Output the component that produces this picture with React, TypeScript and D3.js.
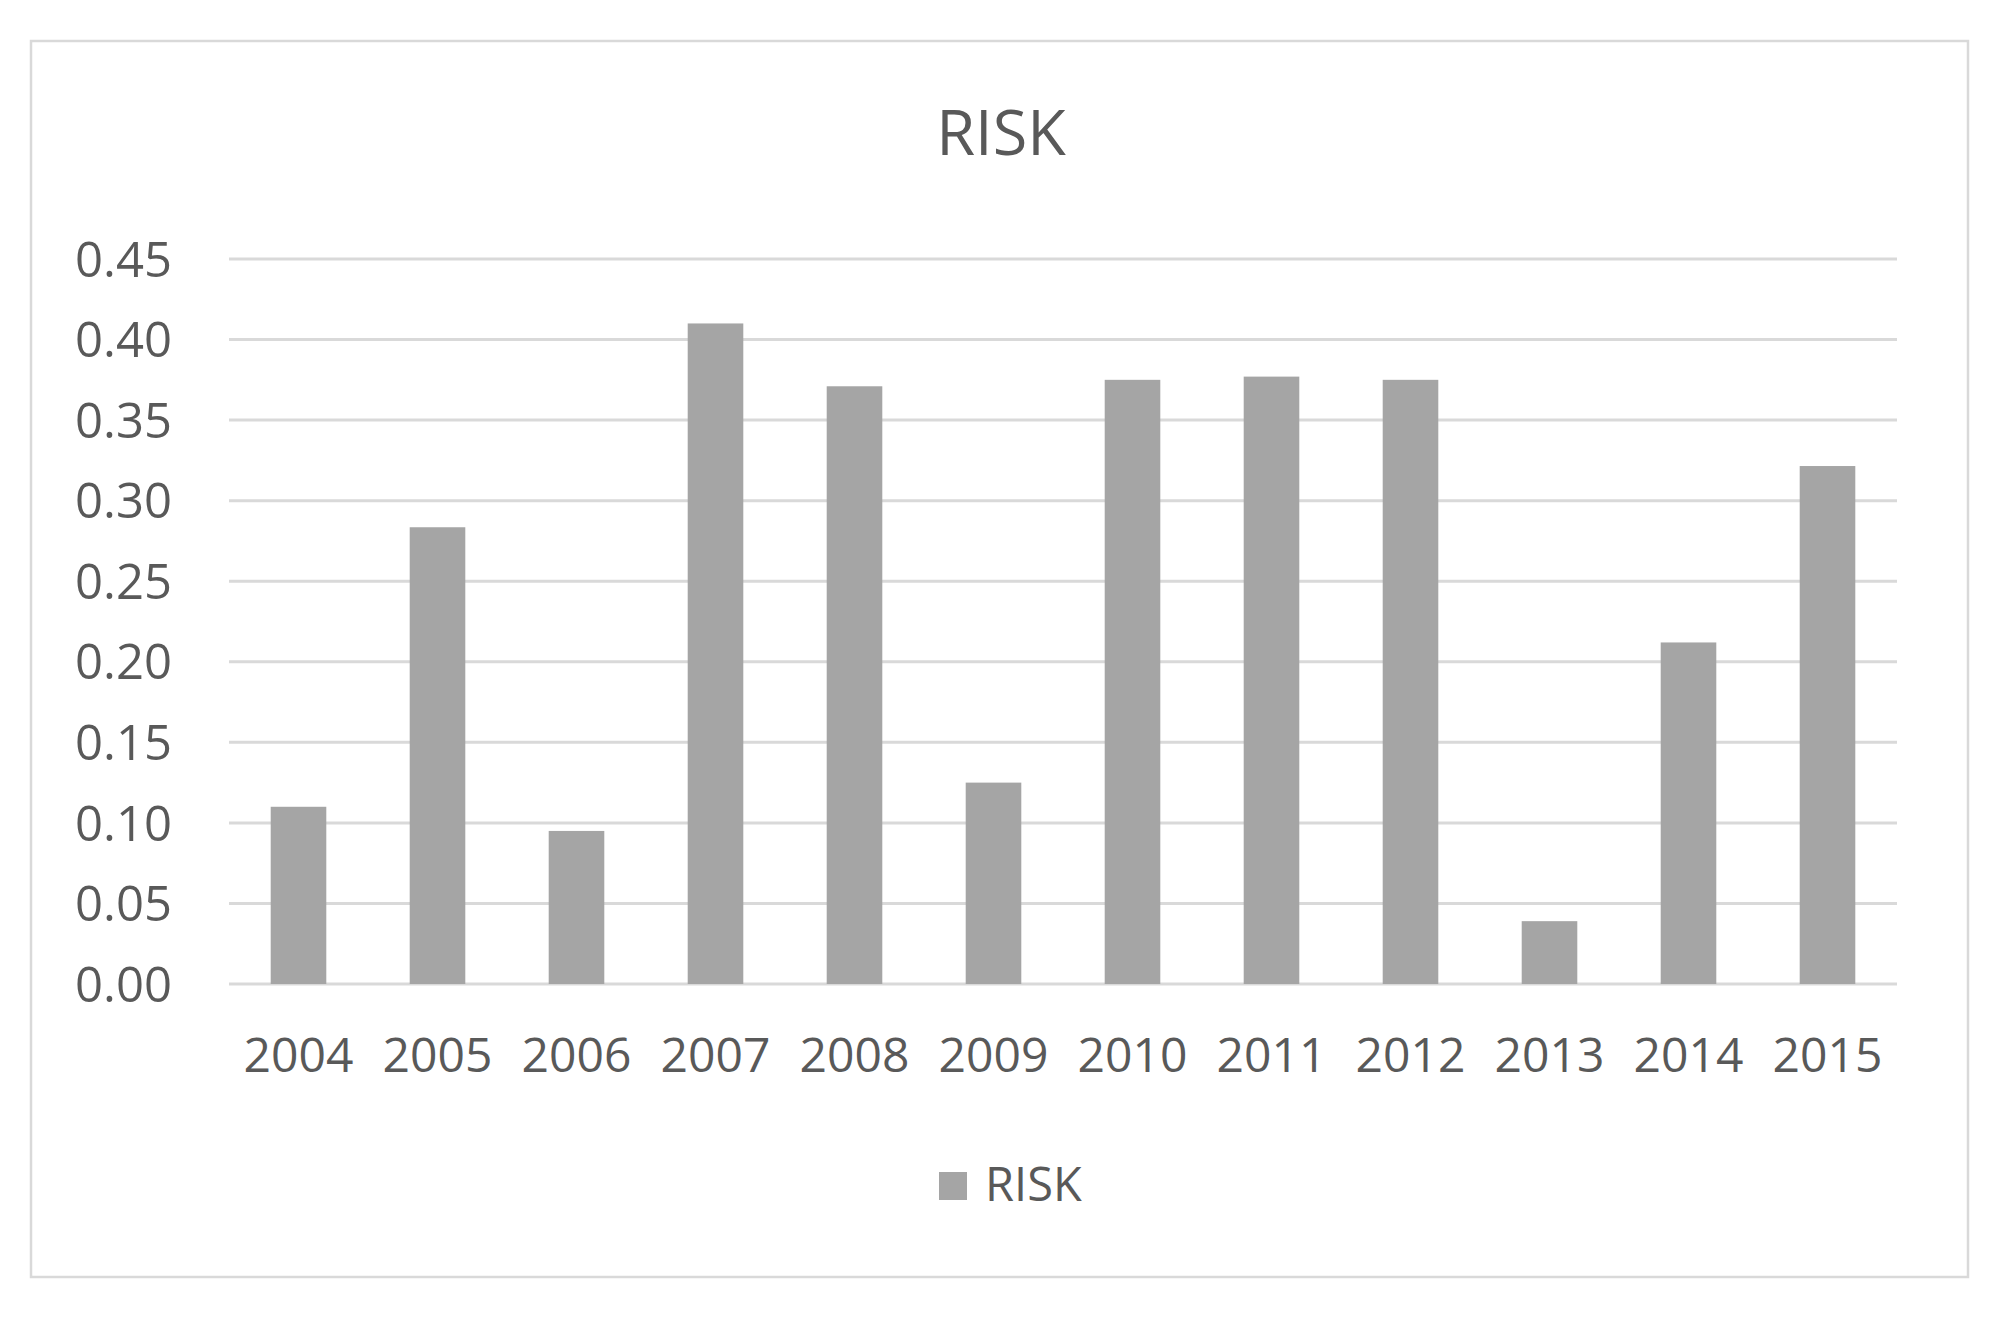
import React from "react";
import * as d3 from "d3";

const categories = ["2004", "2005", "2006", "2007", "2008", "2009", "2010", "2011", "2012", "2013", "2014", "2015"];
const riskValues = [0.11, 0.2835, 0.095, 0.41, 0.371, 0.125, 0.375, 0.377, 0.375, 0.039, 0.212, 0.3215];
const yTicks = [0, 0.05, 0.1, 0.15, 0.2, 0.25, 0.3, 0.35, 0.4, 0.45];
const seriesName = "RISK";
const chartTitle = "RISK";

const W = 1995;
const H = 1324;
const FONT = "'Open Sans', 'Noto Sans', sans-serif";
const TEXT = "#595959";
const GRID = "#d9d9d9";
const BAR = "#a5a5a5";

export default function App() {
  const x = d3.scaleBand<string>().domain(categories).range([229, 1897]).paddingInner(0.6).paddingOuter(0.3);
  const y = d3.scaleLinear().domain([0, 0.45]).range([984, 259]);
  const fmt = d3.format(".2f");

  return (
    <svg width={W} height={H} style={{ position: "absolute", left: 0, top: 0, background: "#fff" }}>
      <rect x={0} y={0} width={W} height={H} fill="#fff" />
      <rect x={31} y={41} width={1937} height={1236} fill="#fff" stroke={GRID} strokeWidth={2.5} />
      <text x={1001} y={155} textAnchor="middle" fontFamily={FONT} fontSize={63} fill={TEXT}>
        {chartTitle}
      </text>
      {yTicks.map((t) => (
        <g key={t}>
          <line x1={229} x2={1897} y1={y(t)} y2={y(t)} stroke={GRID} strokeWidth={3} />
          <text x={172} y={y(t)} dy="0.36em" textAnchor="end" fontFamily={FONT} fontSize={49} fill={TEXT}>
            {fmt(t)}
          </text>
        </g>
      ))}
      {categories.map((c, i) => (
        <rect key={c} x={x(c)} y={y(riskValues[i])} width={x.bandwidth()} height={y(0) - y(riskValues[i])} fill={BAR} />
      ))}
      {categories.map((c) => (
        <text key={c} x={(x(c) as number) + x.bandwidth() / 2} y={1072} textAnchor="middle" fontFamily={FONT} fontSize={48} fill={TEXT}>
          {c}
        </text>
      ))}
      <rect x={939} y={1172} width={28} height={28} fill={BAR} />
      <text x={985} y={1201} fontFamily={FONT} fontSize={47} fill={TEXT}>
        {seriesName}
      </text>
    </svg>
  );
}
